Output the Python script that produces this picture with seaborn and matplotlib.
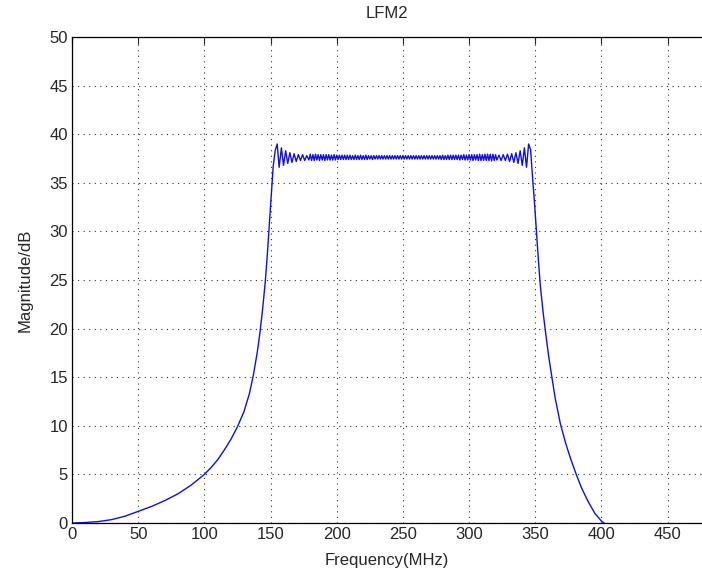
import matplotlib
matplotlib.use("Agg")
import matplotlib.pyplot as plt
import seaborn as sns

sns.set_style("white")
plt.rcParams['font.family'] = ['Liberation Sans', 'DejaVu Sans']

# lower skirt
rise_freq = [0, 10, 20, 30, 40, 50, 60, 70, 80, 90, 100, 105, 110, 115, 120,
             125, 130, 134, 137, 140, 142, 144, 146, 147.5, 149, 150, 151, 152, 153.5]
rise_mag = [0.0, 0.05, 0.15, 0.35, 0.7, 1.2, 1.7, 2.3, 3.0, 3.9, 5.0, 5.7, 6.5, 7.5, 8.6,
            9.9, 11.5, 13.3, 15.2, 17.6, 19.6, 22.0, 24.8, 27.5, 30.6, 32.8, 34.9, 36.7, 38.3]

# Gibbs ripples at the left band edge
left_freq = [155, 156.5, 158.2, 159.8, 161.4, 163.0, 164.6, 166.2, 167.8, 169.4,
             171.0, 172.6, 174.2, 175.8, 177.4, 179.0]
left_mag = [39.0, 36.6, 38.6, 36.8, 38.3, 37.0, 38.1, 37.1, 38.0, 37.2,
            37.9, 37.3, 37.9, 37.3, 37.8, 37.35]

# passband (thick jittery band), one reading per MHz
pass_freq = list(range(180, 321))
pass_mag = [37.95, 37.3, 37.9, 37.3, 37.95, 37.35, 37.9, 37.3, 37.9, 37.35,
            37.9, 37.3, 37.9, 37.35, 37.9, 37.35, 37.85, 37.35, 37.9, 37.35,
            37.85, 37.4, 37.85, 37.4, 37.85, 37.4, 37.85, 37.4, 37.85, 37.4,
            37.85, 37.4, 37.8, 37.4, 37.85, 37.4, 37.8, 37.4, 37.85, 37.4,
            37.8, 37.4, 37.85, 37.4, 37.8, 37.45, 37.8, 37.4, 37.8, 37.45,
            37.8, 37.45, 37.8, 37.45, 37.8, 37.45, 37.8, 37.45, 37.8, 37.45,
            37.8, 37.45, 37.8, 37.45, 37.8, 37.45, 37.8, 37.45, 37.8, 37.45,
            37.8, 37.45, 37.8, 37.45, 37.8, 37.45, 37.8, 37.45, 37.8, 37.45,
            37.8, 37.45, 37.8, 37.45, 37.8, 37.45, 37.8, 37.45, 37.8, 37.45,
            37.8, 37.45, 37.8, 37.45, 37.8, 37.45, 37.8, 37.45, 37.8, 37.4,
            37.85, 37.4, 37.8, 37.4, 37.85, 37.4, 37.85, 37.4, 37.85, 37.4,
            37.85, 37.4, 37.85, 37.35, 37.85, 37.4, 37.9, 37.35, 37.85, 37.35,
            37.9, 37.35, 37.9, 37.3, 37.9, 37.35, 37.9, 37.3, 37.95, 37.3,
            37.9, 37.3, 37.95, 37.3, 37.95, 37.3, 37.95, 37.25, 37.95, 37.3,
            37.9]

# ripples at the right band edge
right_freq = [321.0, 322.6, 324.2, 325.8, 327.4, 329.0, 330.6, 332.2, 333.8, 335.4,
              337.0, 338.6, 340.2, 341.8, 343.4, 345.0, 346.5]
right_mag = [37.35, 37.85, 37.3, 37.9, 37.3, 37.95, 37.2, 38.0, 37.1, 38.1,
             37.0, 38.3, 36.8, 38.6, 36.6, 39.0, 38.4]

# upper skirt
fall_freq = [348, 349.5, 351, 352.5, 354, 356, 358, 360, 362, 365, 369,
             373, 377, 381, 385, 390, 395, 400, 402]
fall_mag = [35.5, 32.8, 29.8, 26.8, 24.2, 21.6, 19.4, 17.3, 15.5, 12.9, 10.2,
            8.2, 6.5, 5.0, 3.6, 2.2, 1.0, 0.2, 0.0]

freq = rise_freq + left_freq + pass_freq + right_freq + fall_freq
mag = rise_mag + left_mag + pass_mag + right_mag + fall_mag

fig = plt.figure(figsize=(7.02, 5.79), dpi=100)
ax = fig.add_axes([0.1026, 0.0967, 0.8974, 0.8393])

sns.lineplot(x=freq, y=mag, sort=False, estimator=None, color='#1010e0',
             linewidth=1.0, ax=ax)

ax.set_xlim(0, 476)
ax.set_ylim(0, 50)
ax.set_xticks(range(0, 451, 50))
ax.set_yticks(range(0, 51, 5))
ax.grid(True, linestyle=(0, (1, 4)), color='black', linewidth=0.8, alpha=0.8)
ax.tick_params(direction='in', top=True, right=False, labelsize=12,
               length=5, width=0.8, pad=3)
for s in ['top', 'bottom', 'left']:
    ax.spines[s].set_color('black')
    ax.spines[s].set_linewidth(0.9)
ax.spines['right'].set_visible(False)

ax.set_title('LFM2', fontsize=12, pad=14)
ax.set_xlabel('Frequency(MHz)', fontsize=12, labelpad=8)
ax.set_ylabel('Magnitude/dB', fontsize=12, labelpad=12)

fig.savefig('out.png', dpi=100)
